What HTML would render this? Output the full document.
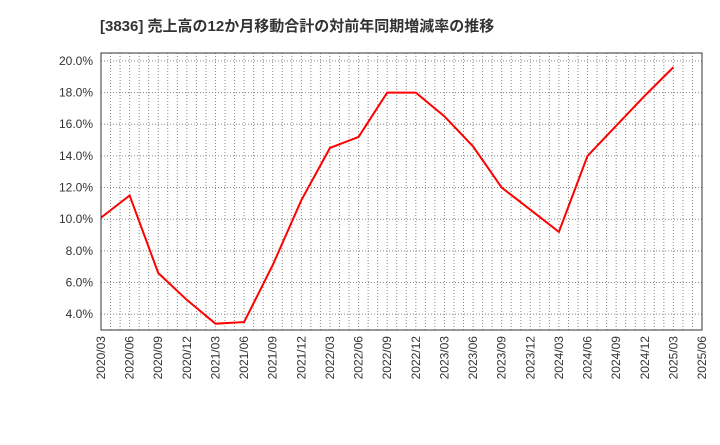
<!DOCTYPE html>
<html><head><meta charset="utf-8"><style>
body{margin:0;background:#fff;}
svg text{font-family:"Liberation Sans","Noto Sans CJK JP",sans-serif;}
</style></head><body>
<svg id="c" width="720" height="440">
<text x="100" y="31" font-size="15" font-weight="bold" fill="#333">[3836]  売上高の12か月移動合計の対前年同期増減率の推移</text>
<g id="grid"></g><g id="axes"></g>
<polyline id="line" fill="none" stroke="#ff0000" stroke-width="2"/>
<rect x="101" y="53" width="601" height="277" fill="none" stroke="#333"/>
</svg>
<script>
const categories=["2020/03","2020/06","2020/09","2020/12","2021/03","2021/06","2021/09","2021/12","2022/03","2022/06","2022/09","2022/12","2023/03","2023/06","2023/09","2023/12","2024/03","2024/06","2024/09","2024/12","2025/03","2025/06"];
const values=[10.1,11.5,6.6,4.9,3.4,3.5,7.1,11.2,14.5,15.2,18.0,18.0,16.5,14.6,12.0,10.6,9.2,14.0,15.9,17.8,19.6];
const yTicks=[4,6,8,10,12,14,16,18,20];
const L=101,R=702,T=53,B=330,yMin=3.0,yMax=20.5;
const nQ=categories.length-1;
const x=i=>L+(R-L)*i/nQ;
const y=v=>B-(B-T)*(v-yMin)/(yMax-yMin);
const NS="http://www.w3.org/2000/svg";
const grid=document.getElementById('grid'),axes=document.getElementById('axes');
function mk(t,a,p){const e=document.createElementNS(NS,t);for(const k in a)e.setAttribute(k,a[k]);p.appendChild(e);return e;}
for(let m=1;m<nQ*3;m++){const xx=L+(R-L)*m/(nQ*3);
const g=mk('line',{x1:xx,x2:xx,y1:T,y2:B,stroke:'#888','stroke-dasharray':'1,2','stroke-width':1},grid);

}
yTicks.forEach(v=>{const yy=y(v);
const g=mk('line',{x1:L,x2:R,y1:yy,y2:yy,stroke:'#888','stroke-dasharray':'1,2'},grid);


const t=mk('text',{x:L-8,y:yy+4,'text-anchor':'end','font-size':12,fill:'#333'},axes);t.textContent=v.toFixed(1)+'%';

});
categories.forEach((c,i)=>{const xx=x(i);
const t=mk('text',{x:0,y:0,'text-anchor':'end','font-size':12,fill:'#333',transform:`translate(${xx+4},${B+6}) rotate(-90)`},axes);t.textContent=c;

});
document.getElementById('line').setAttribute('points',values.map((v,i)=>x(i)+','+y(v)).join(' '));
</script>
</body></html>
